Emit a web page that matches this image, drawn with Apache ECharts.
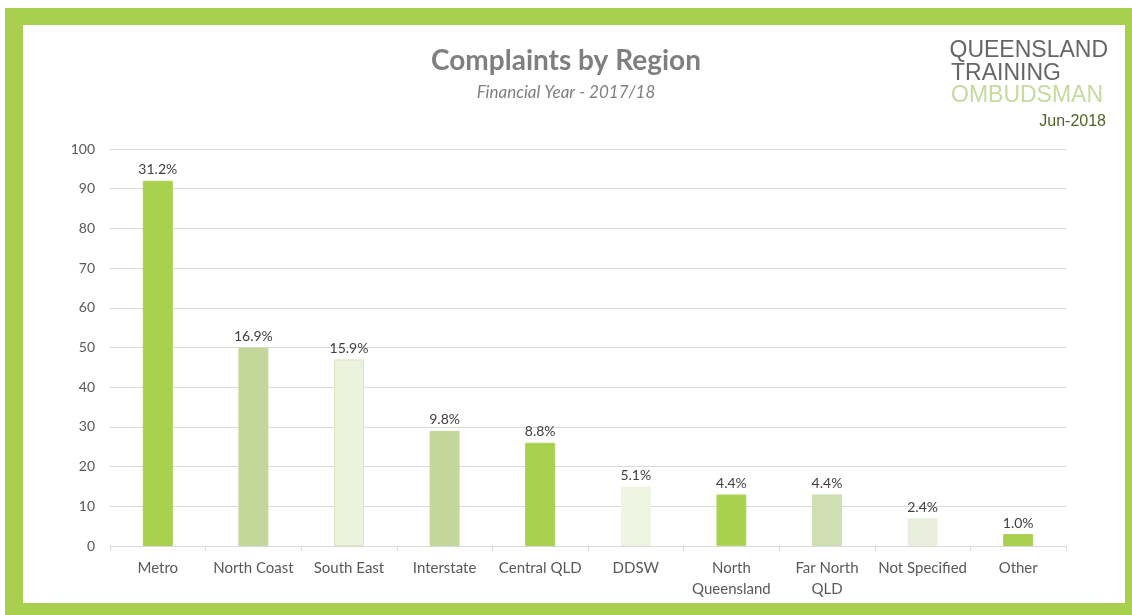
<!DOCTYPE html>
<html>
<head>
<meta charset="utf-8">
<script src="https://cdn.jsdelivr.net/npm/echarts@6/dist/echarts.min.js"></script>
<style>
html,body{margin:0;padding:0;background:#fff;}
#chart{width:1132px;height:615px;}
</style>
</head>
<body>
<div id="chart"></div>
<script>
const categories = ['Metro','North Coast','South East','Interstate','Central QLD','DDSW','North\nQueensland','Far North\nQLD','Not Specified','Other'];
const complaints = [92, 50, 47, 29, 26, 15, 13, 13, 7, 3];
const pctLabels = ['31.2%','16.9%','15.9%','9.8%','8.8%','5.1%','4.4%','4.4%','2.4%','1.0%'];
const yTicks = [0, 100, 10];

const barColors = ['#A9D04F','#C4D79B','#EBF3DE','#C4D79B','#A9D04F','#EEF4E2','#A9D04F','#CFDFB2','#EAEEDD','#A9D04F'];
const barBorders = ['#A9D04F','#C4D79B','#D8E6BE','#C4D79B','#A9D04F','#EEF4E2','#B9D86E','#CFDFB2','#EAEEDD','#A9D04F'];

const chart = echarts.init(document.getElementById('chart'), null, {renderer:'canvas'});
const font = 'Lato, "Open Sans", sans-serif';
const logoFont = '23px "Liberation Sans Narrow", "Liberation Sans", sans-serif';
chart.setOption({
  backgroundColor: '#ffffff',
  animation: false,
  graphic: [
    {type:'rect', silent:true, z:-10, shape:{x:5,y:8,width:1127,height:607}, style:{fill:'#A8CF4E'}},
    {type:'rect', silent:true, z:-9, shape:{x:23,y:25,width:1102,height:578}, style:{fill:'#ffffff'}},
    {type:'text', left:'center', top:47, style:{text:'Complaints by Region', font:'bold 28px ' + font, fill:'#7F7F7F'}},
    {type:'text', left:'center', top:84, style:{text:'Financial Year - 2017/18', font:'italic 17px ' + font, fill:'#7F7F7F'}},
    {type:'text', right:24, top:39, style:{text:'QUEENSLAND', font:logoFont, fill:'#666666'}},
    {type:'text', left:951, top:62, style:{text:'TRAINING', font:logoFont, fill:'#666666'}},
    {type:'text', left:951, top:84, style:{text:'OMBUDSMAN', font:logoFont, fill:'#C6DA9E'}},
    {type:'text', right:26, top:114, style:{text:'Jun-2018', font:'16px "Liberation Sans", Arial, sans-serif', fill:'#4F6228'}}
  ],
  grid: {left:110, right:66, top:149, bottom:69, containLabel:false},
  xAxis: {
    type:'category',
    data: categories,
    axisLine:{lineStyle:{color:'#D9D9D9', width:1}},
    axisTick:{show:true, length:5, lineStyle:{color:'#D9D9D9'}},
    axisLabel:{color:'#595959', fontSize:15, fontFamily:font, margin:12, lineHeight:21, interval:0}
  },
  yAxis: {
    type:'value',
    min: yTicks[0], max: yTicks[1], interval: yTicks[2],
    axisLine:{show:false},
    axisTick:{show:false},
    splitLine:{lineStyle:{color:'#D9D9D9', width:1}},
    axisLabel:{color:'#595959', fontSize:14, fontFamily:font, margin:15}
  },
  series: [{
    type:'bar',
    barWidth:30,
    data: complaints.map((v,i)=>({value:v, itemStyle:{color:barColors[i], borderColor:barBorders[i], borderWidth:1}})),
    label:{
      show:true, position:'top', distance:4,
      color:'#404040', fontSize:14, fontFamily:font,
      formatter: p => pctLabels[p.dataIndex]
    }
  }]
});
</script>
</body>
</html>
